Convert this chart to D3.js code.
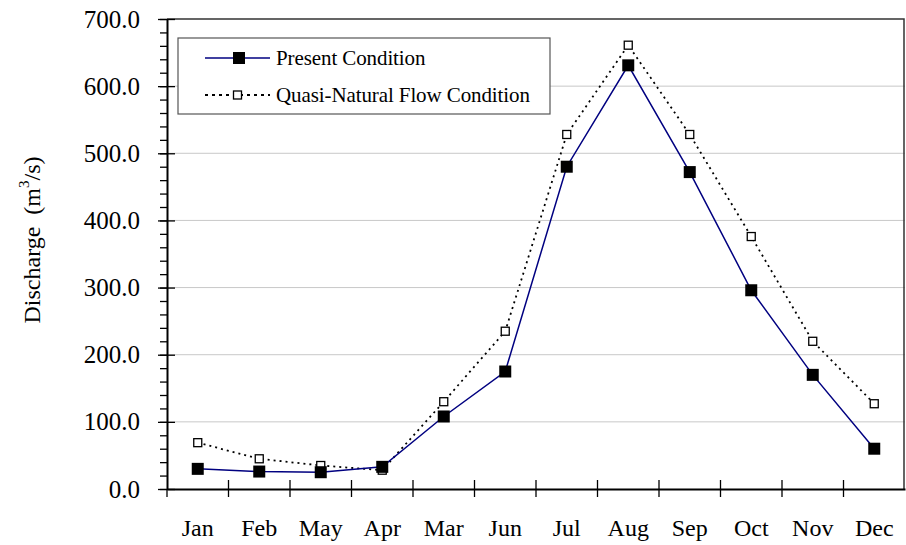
<!DOCTYPE html>
<html>
<head>
<meta charset="utf-8">
<script src="https://cdn.jsdelivr.net/npm/d3@7"></script>
<style>
  body { margin: 0; background: #fff; }
  svg { display: block; font-family: "Liberation Serif", "Times New Roman", serif; }
</style>
</head>
<body>
<svg width="906" height="545"></svg>
<script>
const width = 906;
const height = 545;
const margin = { top: 19, right: 1, bottom: 56, left: 167 };

// data
const months = ["Jan", "Feb", "May", "Apr", "Mar", "Jun", "Jul", "Aug", "Sep", "Oct", "Nov", "Dec"];
const present = [30, 26, 25, 33, 108, 175, 480, 631, 472, 296, 170, 60];
const quasiNatural = [69, 45, 35, 28, 130, 235, 528, 661, 528, 376, 220, 127];
const yTicks = [0, 100, 200, 300, 400, 500, 600, 700];

const svg = d3.select("svg");

const x = d3.scaleBand()
  .domain(months)
  .range([margin.left, width - margin.right]);

const y = d3.scaleLinear()
  .domain([0, 700])
  .range([height - margin.bottom, margin.top]);

const cx = d => x(d) + x.bandwidth() / 2;

// gridlines
svg.append("g")
  .selectAll("line")
  .data(yTicks.slice(1, -1))
  .join("line")
  .attr("x1", margin.left)
  .attr("x2", width - margin.right)
  .attr("y1", d => y(d))
  .attr("y2", d => y(d))
  .attr("stroke", "#c8c8c8")
  .attr("stroke-width", 1);

// frame top / right
svg.append("path")
  .attr("d", `M${margin.left},${y(700)}H${width - margin.right - 1}V${y(0)}`)
  .attr("fill", "none")
  .attr("stroke", "#333")
  .attr("stroke-width", 1.5);

// minor y ticks
svg.append("g")
  .attr("transform", `translate(${margin.left},0)`)
  .call(d3.axisLeft(y).tickValues(d3.range(0, 701, 20)).tickSize(7).tickFormat(""))
  .call(g => g.select(".domain").remove())
  .call(g => g.selectAll("line").attr("stroke", "#000").attr("stroke-width", 1.3));

// major y axis
svg.append("g")
  .attr("transform", `translate(${margin.left},0)`)
  .call(d3.axisLeft(y).tickValues(yTicks).tickSizeInner(-8).tickSizeOuter(0).tickPadding(27).tickFormat(d3.format(".1f")))
  .call(g => g.select(".domain").attr("stroke", "#000").attr("stroke-width", 2))
  .call(g => g.selectAll(".tick line").attr("x1", -9).attr("x2", 8).attr("stroke", "#000").attr("stroke-width", 1.3))
  .call(g => g.selectAll("text").attr("font-size", 25).attr("font-family", "Liberation Serif").attr("fill", "#000"));

// x axis
svg.append("g")
  .attr("transform", `translate(0,${y(0)})`)
  .call(d3.axisBottom(x).tickSize(0).tickPadding(30))
  .call(g => g.select(".domain").attr("stroke", "#000").attr("stroke-width", 2))
  .call(g => g.selectAll("text").attr("font-size", 24).attr("font-family", "Liberation Serif").attr("fill", "#000"));

svg.append("g")
  .selectAll("line")
  .data(months.slice(1))
  .join("line")
  .attr("x1", d => x(d))
  .attr("x2", d => x(d))
  .attr("y1", y(0) - 9)
  .attr("y2", y(0) + 8)
  .attr("stroke", "#000")
  .attr("stroke-width", 1.3);

svg.append("line")
  .attr("x1", margin.left).attr("x2", margin.left)
  .attr("y1", y(0)).attr("y2", y(0) + 8)
  .attr("stroke", "#000").attr("stroke-width", 1.3);

// y title
svg.append("text")
  .attr("transform", `translate(40,240) rotate(-90)`)
  .attr("text-anchor", "middle")
  .attr("font-size", 24)
  .html('Discharge &#160;(m<tspan dy="-11" font-size="15">3</tspan><tspan dy="11">/s)</tspan>');

// lines
const line = d3.line()
  .x((d, i) => cx(months[i]))
  .y(d => y(d));

svg.append("path")
  .datum(quasiNatural)
  .attr("d", line)
  .attr("fill", "none")
  .attr("stroke", "#000")
  .attr("stroke-width", 1.8)
  .attr("stroke-dasharray", "2,4");

svg.append("path")
  .datum(present)
  .attr("d", line)
  .attr("fill", "none")
  .attr("stroke", "#000080")
  .attr("stroke-width", 1.5);

svg.append("g")
  .selectAll("rect")
  .data(quasiNatural)
  .join("rect")
  .attr("x", (d, i) => cx(months[i]) - 4)
  .attr("y", d => y(d) - 4)
  .attr("width", 8)
  .attr("height", 8)
  .attr("fill", "#fff")
  .attr("stroke", "#000")
  .attr("stroke-width", 1.3);

svg.append("g")
  .selectAll("rect")
  .data(present)
  .join("rect")
  .attr("x", (d, i) => cx(months[i]) - 6)
  .attr("y", d => y(d) - 6)
  .attr("width", 12)
  .attr("height", 12)
  .attr("fill", "#000");

// legend
const legend = svg.append("g");
legend.append("rect")
  .attr("x", 178).attr("y", 38)
  .attr("width", 372).attr("height", 76)
  .attr("fill", "#fff")
  .attr("stroke", "#555")
  .attr("stroke-width", 1.2);

legend.append("line")
  .attr("x1", 205).attr("x2", 270).attr("y1", 58).attr("y2", 58)
  .attr("stroke", "#000080").attr("stroke-width", 1.5);
legend.append("rect")
  .attr("x", 233).attr("y", 52).attr("width", 12).attr("height", 12).attr("fill", "#000");
legend.append("text")
  .attr("x", 276).attr("y", 65)
  .attr("font-size", 21)
  .attr("letter-spacing", -0.1)
  .text("Present Condition");

legend.append("line")
  .attr("x1", 205).attr("x2", 270).attr("y1", 95).attr("y2", 95)
  .attr("stroke", "#000").attr("stroke-width", 1.8).attr("stroke-dasharray", "3,4");
legend.append("rect")
  .attr("x", 233.5).attr("y", 91).attr("width", 8).attr("height", 8)
  .attr("fill", "#fff").attr("stroke", "#000").attr("stroke-width", 1.3);
legend.append("text")
  .attr("x", 276).attr("y", 102)
  .attr("font-size", 21)
  .attr("letter-spacing", -0.1)
  .text("Quasi-Natural Flow Condition");
</script>
</body>
</html>
